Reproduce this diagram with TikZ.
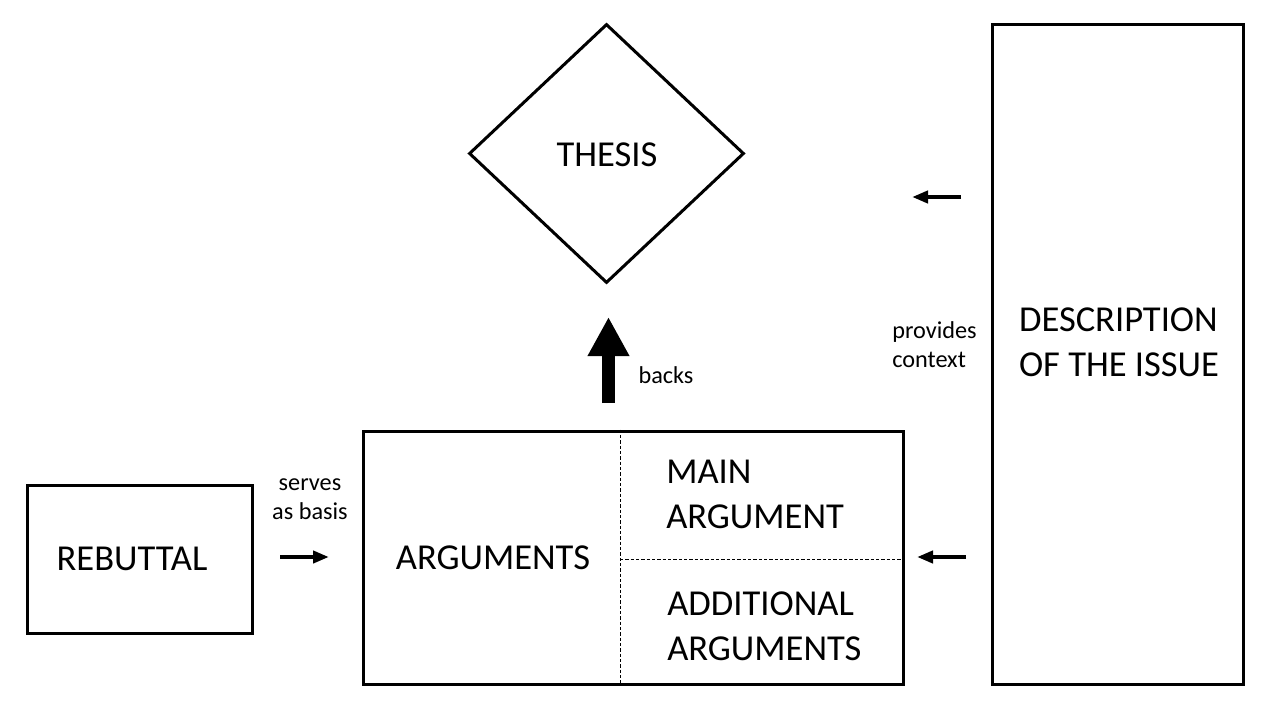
\documentclass[tikz,border=0pt]{standalone}
\usepackage{fontspec}
\setmainfont{Carlito}
\usetikzlibrary{shapes.geometric,arrows.meta}
\begin{document}
\begin{tikzpicture}[x=0.75pt,y=-0.75pt,
  big/.style={font=\fontsize{27.4}{33.5}\selectfont, align=left, inner sep=0pt},
  small/.style={font=\fontsize{18.2}{21.75}\selectfont, align=center, inner sep=0pt},
  box/.style={draw, line width=2.25pt, rectangle, inner sep=0pt},
  thinarrow/.style={line width=3pt, -{Triangle[length=12pt,width=9pt]}},
  dash line/.style={line width=0.6pt, dash pattern=on 2.5pt off 1.5pt}
]
\useasboundingbox (0,0) rectangle (1280,720);
% thesis
\node[draw, line width=2.25pt, diamond, inner sep=0pt, minimum width=206.25pt, minimum height=194.25pt] (thesis) at (606.5,153.5) {};
\node[big] (thesisT) at (607,155) {THESIS};
% arguments box
\node[box, minimum width=405pt, minimum height=189.75pt] (args) at (633,557.5) {};
\draw[dash line] (args.north -| 620,0) -- (args.south -| 620,0);
\draw[dash line] (620,559) coordinate (hl) -- (hl -| args.east);
\node[big] (argsT) at (493,558) {ARGUMENTS};
\node[big, anchor=west] (mainT) at (666,494.5) {MAIN\\ARGUMENT};
\node[big, anchor=west] (addT) at (667,626.5) {ADDITIONAL\\ARGUMENTS};
% rebuttal
\node[box, minimum width=168.75pt, minimum height=111pt] (reb) at (139.5,559) {};
\node[big] (rebT) at (132,559) {REBUTTAL};
% description
\node[box, minimum width=188.25pt, minimum height=494.25pt] (desc) at (1117.5,354.5) {};
\node[big, align=left] (descT) at (1119,342) {DESCRIPTION\\OF THE ISSUE};
% backs arrow
\coordinate (b0) at (608.5,403);
\coordinate (b1) at (608.5,317);
\draw[line width=9.75pt, -{Triangle[length=29.25pt,width=29.25pt]}] (b0) -- (b1);
\node[small] (backsT) at (666,375) {backs};
% serves as basis
\node[small] (servesT) at (310,499) {serves\\as basis};
\coordinate (s0) at (280,557);
\coordinate (s1) at (329,557);
\draw[thinarrow] (s0) -- (s1);
% provides context
\node[small, align=left, anchor=west] (provT) at (892,345) {provides\\context};
\coordinate (p0) at (961,197);
\coordinate (p1) at (912,197);
\draw[thinarrow] (p0) -- (p1);
\coordinate (q0) at (966,557);
\coordinate (q1) at (917,557);
\draw[thinarrow] (q0) -- (q1);
\end{tikzpicture}
\end{document}
